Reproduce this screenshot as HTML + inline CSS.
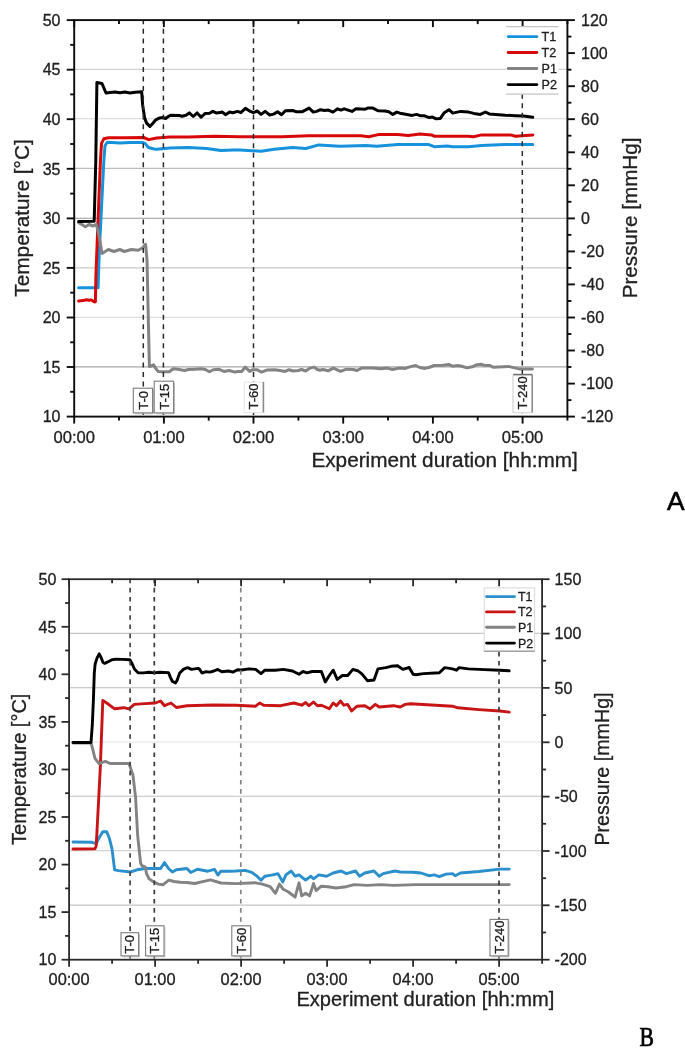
<!DOCTYPE html>
<html><head><meta charset="utf-8"><title>Chart</title>
<style>
html,body{margin:0;padding:0;background:#fff;}
body{width:685px;height:1048px;overflow:hidden;font-family:"Liberation Sans",sans-serif;}
svg{display:block;will-change:transform;}
</style></head><body>
<svg width="685" height="1048" viewBox="0 0 685 1048" font-family="Liberation Sans, sans-serif"><style>text{stroke:#1a1a1a;stroke-width:0.3px;}</style>
<rect width="685" height="1048" fill="#fff"/>
<line x1="74.2" y1="366.9" x2="567.4" y2="366.9" stroke="#a8a8a8" stroke-width="1.1"/>
<line x1="74.2" y1="317.2" x2="567.4" y2="317.2" stroke="#d5d5d5" stroke-width="1.1"/>
<line x1="74.2" y1="267.9" x2="567.4" y2="267.9" stroke="#c9c9c9" stroke-width="1.1"/>
<line x1="74.2" y1="218.2" x2="567.4" y2="218.2" stroke="#999999" stroke-width="1.1"/>
<line x1="74.2" y1="168.4" x2="567.4" y2="168.4" stroke="#bcbcbc" stroke-width="1.1"/>
<line x1="74.2" y1="118.7" x2="567.4" y2="118.7" stroke="#d5d5d5" stroke-width="1.1"/>
<line x1="74.2" y1="69.4" x2="567.4" y2="69.4" stroke="#d1d1d1" stroke-width="1.1"/>
<polyline fill="none" stroke="#1592dc" stroke-width="3" stroke-linejoin="round" stroke-linecap="round" points="78.6,287.8 98.1,287.8 99.2,253.5 101.5,207.5 103.8,161.7 105,145.7 107.2,142.2 120,143 130,142.5 142,142.5 145,143.4 148.5,147.5 154,149 156.7,149.3 169.8,148 188.2,147.5 206.6,148.5 221,150.6 232.9,149.9 240,150.1 261,151.2 274.2,149.3 292.5,147.5 305.7,148.5 318.8,144.9 339.8,146.2 366.1,145.4 376.6,146.2 397.6,144.6 428.9,144.6 434.2,146.7 447.3,145.9 452.5,146.7 468.3,146.7 481.5,145.4 505.1,144.6 532.8,144.6"/>
<polyline fill="none" stroke="#d80808" stroke-width="3" stroke-linejoin="round" stroke-linecap="round" points="78.6,301 83,300.6 86.5,299.8 89,300.3 91,299.9 94.7,302 95.4,301.6 95.9,276 98.1,219 100.4,161.7 101.5,143.4 103.8,138.8 108.4,137.7 125,137.8 143.6,137.5 148.8,139.6 156.7,138 169.8,137 188.2,137 214.5,136.2 240,136.7 282,136.7 308.3,135.7 360.9,135.7 368.7,136.7 379.3,134.4 397.6,134.4 408.2,135.4 420,134.1 431.5,134.9 434.2,136.2 468.3,136.2 473.6,136.7 481.5,134.9 510.4,134.9 515.6,136.2 532.8,134.9"/>
<polyline fill="none" stroke="#838383" stroke-width="3" stroke-linejoin="round" stroke-linecap="round" points="78.6,222.6 81.5,224.3 85.3,226.7 89,224.5 93,226 96.2,224.3 98,230.5 100.4,244 102,253.5 108.4,249.5 114,251.5 119.8,249.5 124.4,251.5 131.3,249.5 138.2,250.3 142.8,247.7 145.6,244.3 147,260 149.4,366.5 150.9,366.2 153.5,364.9 155.5,368.1 158.1,371.4 162.1,371.8 169.3,371.8 173.3,368.8 177.9,369.2 184.4,370.5 188.4,369.5 194.9,369.2 201.5,368.8 205.4,369.5 209.4,371.8 213.3,369.7 218.6,369.2 223.8,371.4 229.1,370.5 235,372.1 238.5,371.6 241.8,371.4 245.1,367.1 249.7,371.4 253,369.7 256.9,369.7 261.5,372.1 266.8,370.1 274.7,369.7 279.9,370.5 285.2,371.4 289.1,369.7 293.1,371 298.3,370.5 301.6,369.5 305.6,371 310.2,368.1 314.1,367.1 317.4,369.5 320,370.3 322.9,369.5 328.1,370.8 333.4,368.1 340.6,371.4 346.5,369.2 353.1,369.5 357,370.5 361.6,368.1 372.8,368.1 380.7,368.8 387.3,368.1 392.5,369.5 399.1,368.1 405.3,368.4 410.5,366.6 415.8,365.5 419.7,367.5 425,368.4 428.9,367.5 434.2,365.5 443.4,365.2 448.6,364.5 452.6,366.2 457.8,365.5 461.8,366.2 467,367.9 472.3,366.8 476.2,364.9 480.8,364.2 484.1,365.2 490,365.5 493.2,367.2 508.4,366.4 519.8,369.1 532.3,369.1"/>
<polyline fill="none" stroke="#000000" stroke-width="3" stroke-linejoin="round" stroke-linecap="round" points="78.6,221.5 94.2,221.3 95.8,160 96.9,82.6 102,83.5 106,93 110,92.5 115,92 120,92.8 125,92 130,93 135,92.2 141.7,91.8 142.6,104.7 144.6,117.9 146.6,123.1 149.9,126.4 152.5,123.8 155.8,119.8 159.7,117.9 163,117.6 165.6,118.5 168.3,116.5 170.9,115.2 179.4,115.5 182,116.3 186,115.2 189.3,112.9 193.2,116.5 197.2,112.9 201.1,117.2 205,113.6 209.6,113.3 212.9,111.3 216.2,112.9 220.2,112.6 222.1,111.9 225.4,114.7 229.6,112.1 232.9,112.7 237.5,111.4 240.8,112.7 245.4,108.4 249.3,110.8 253.3,112.7 257.2,111 261.1,114.4 265.1,111.4 269.7,115 273.6,114.1 277.6,111.8 281.5,114.7 285.4,110.8 292.7,110.5 296.6,111.8 301.9,111.8 309.1,108.1 313.3,112.1 316.6,111.4 320.5,109.7 324.5,110.5 328.4,110.1 333,112.1 337.6,108.8 340.9,110.1 344.2,108.8 348.1,110.1 352,111.4 356,108.8 365.2,109.2 367.8,108.1 372.4,107.9 378.3,110.8 384.9,111 388.8,111.8 392.8,114.4 396.7,112.1 400,113.2 402.9,113.7 408.1,114.7 412.1,115.4 416.7,114.4 420.6,115.8 424.6,115.8 429.2,117.6 432.5,117.1 435.7,118.7 440.3,118.4 444.3,112.7 448.9,109.7 452.8,113.1 460.7,111.4 468.6,112.1 473.8,113.4 480.4,114.4 485.4,112 489.3,113.9 505.1,115.2 515.6,115.7 523.5,116 532.8,117.3"/>
<line x1="143.3" y1="20.1" x2="143.3" y2="416.6" stroke="#2a2a2a" stroke-width="1.5" stroke-dasharray="5.00 4.53" stroke-dashoffset="0.78"/>
<line x1="163.4" y1="20.1" x2="163.4" y2="416.6" stroke="#2a2a2a" stroke-width="1.5" stroke-dasharray="5.00 4.53" stroke-dashoffset="0.78"/>
<line x1="253.5" y1="20.1" x2="253.5" y2="416.6" stroke="#2a2a2a" stroke-width="1.5" stroke-dasharray="5.00 4.53" stroke-dashoffset="0.78"/>
<line x1="522.3" y1="93.7" x2="522.3" y2="416.6" stroke="#2a2a2a" stroke-width="1.5" stroke-dasharray="5.00 4.53" stroke-dashoffset="0.00"/>
<line x1="134.8" y1="413.8" x2="153.5" y2="413.8" stroke="#c4c4c4" stroke-width="1"/>
<line x1="153.5" y1="389.7" x2="153.5" y2="413.8" stroke="#c4c4c4" stroke-width="1"/>
<rect x="133.3" y="388.2" width="19.3" height="24.7" fill="#fff" stroke="#7c7c7c" stroke-width="1.1"/>
<text transform="translate(147.5 409.7) rotate(-90)" font-size="13" fill="#222222">T-0</text>
<line x1="155.7" y1="413.8" x2="174.5" y2="413.8" stroke="#c4c4c4" stroke-width="1"/>
<line x1="174.5" y1="382.7" x2="174.5" y2="413.8" stroke="#c4c4c4" stroke-width="1"/>
<rect x="154.2" y="381.2" width="19.4" height="31.7" fill="#fff" stroke="#7c7c7c" stroke-width="1.1"/>
<text transform="translate(168.5 409.7) rotate(-90)" font-size="13" fill="#222222">T-15</text>
<rect x="244.2" y="382" width="19.2" height="30.7" fill="#fff"/>
<line x1="244.2" y1="382" x2="263.4" y2="382" stroke="#e4e4e4" stroke-width="1"/>
<line x1="263.4" y1="382" x2="263.4" y2="412.7" stroke="#8a8a8a" stroke-width="1.6"/>
<line x1="244.2" y1="412.7" x2="263.4" y2="412.7" stroke="#e0e0e0" stroke-width="1"/>
<line x1="244.2" y1="382" x2="244.2" y2="412.7" stroke="#e4e4e4" stroke-width="1"/>
<text transform="translate(258.4 409.5) rotate(-90)" font-size="13" fill="#222222">T-60</text>
<rect x="513" y="374.6" width="19.2" height="38.1" fill="#fff"/>
<line x1="513" y1="374.6" x2="532.2" y2="374.6" stroke="#6e6e6e" stroke-width="1.6"/>
<line x1="532.2" y1="374.6" x2="532.2" y2="412.7" stroke="#858585" stroke-width="1.5"/>
<line x1="513" y1="412.7" x2="532.2" y2="412.7" stroke="#d4d4d4" stroke-width="1"/>
<line x1="513" y1="374.6" x2="513" y2="412.7" stroke="#c8c8c8" stroke-width="1"/>
<text transform="translate(527.2 409.5) rotate(-90)" font-size="13" fill="#222222">T-240</text>
<rect x="74.2" y="20.1" width="493.2" height="396.5" fill="none" stroke="#0d0d0d" stroke-width="1.9"/>
<line x1="66.7" y1="416.6" x2="74.2" y2="416.6" stroke="#0d0d0d" stroke-width="1.9"/>
<line x1="70.2" y1="391.8" x2="74.2" y2="391.8" stroke="#0d0d0d" stroke-width="1.9"/>
<line x1="66.7" y1="367" x2="74.2" y2="367" stroke="#0d0d0d" stroke-width="1.9"/>
<line x1="70.2" y1="342.3" x2="74.2" y2="342.3" stroke="#0d0d0d" stroke-width="1.9"/>
<line x1="66.7" y1="317.5" x2="74.2" y2="317.5" stroke="#0d0d0d" stroke-width="1.9"/>
<line x1="70.2" y1="292.7" x2="74.2" y2="292.7" stroke="#0d0d0d" stroke-width="1.9"/>
<line x1="66.7" y1="267.9" x2="74.2" y2="267.9" stroke="#0d0d0d" stroke-width="1.9"/>
<line x1="70.2" y1="243.1" x2="74.2" y2="243.1" stroke="#0d0d0d" stroke-width="1.9"/>
<line x1="66.7" y1="218.4" x2="74.2" y2="218.4" stroke="#0d0d0d" stroke-width="1.9"/>
<line x1="70.2" y1="193.6" x2="74.2" y2="193.6" stroke="#0d0d0d" stroke-width="1.9"/>
<line x1="66.7" y1="168.8" x2="74.2" y2="168.8" stroke="#0d0d0d" stroke-width="1.9"/>
<line x1="70.2" y1="144" x2="74.2" y2="144" stroke="#0d0d0d" stroke-width="1.9"/>
<line x1="66.7" y1="119.2" x2="74.2" y2="119.2" stroke="#0d0d0d" stroke-width="1.9"/>
<line x1="70.2" y1="94.4" x2="74.2" y2="94.4" stroke="#0d0d0d" stroke-width="1.9"/>
<line x1="66.7" y1="69.7" x2="74.2" y2="69.7" stroke="#0d0d0d" stroke-width="1.9"/>
<line x1="70.2" y1="44.9" x2="74.2" y2="44.9" stroke="#0d0d0d" stroke-width="1.9"/>
<line x1="66.7" y1="20.1" x2="74.2" y2="20.1" stroke="#0d0d0d" stroke-width="1.9"/>
<line x1="567.4" y1="416.6" x2="574.9" y2="416.6" stroke="#0d0d0d" stroke-width="1.9"/>
<line x1="567.4" y1="400.1" x2="571.4" y2="400.1" stroke="#0d0d0d" stroke-width="1.9"/>
<line x1="567.4" y1="383.6" x2="574.9" y2="383.6" stroke="#0d0d0d" stroke-width="1.9"/>
<line x1="567.4" y1="367" x2="571.4" y2="367" stroke="#0d0d0d" stroke-width="1.9"/>
<line x1="567.4" y1="350.5" x2="574.9" y2="350.5" stroke="#0d0d0d" stroke-width="1.9"/>
<line x1="567.4" y1="334" x2="571.4" y2="334" stroke="#0d0d0d" stroke-width="1.9"/>
<line x1="567.4" y1="317.5" x2="574.9" y2="317.5" stroke="#0d0d0d" stroke-width="1.9"/>
<line x1="567.4" y1="301" x2="571.4" y2="301" stroke="#0d0d0d" stroke-width="1.9"/>
<line x1="567.4" y1="284.4" x2="574.9" y2="284.4" stroke="#0d0d0d" stroke-width="1.9"/>
<line x1="567.4" y1="267.9" x2="571.4" y2="267.9" stroke="#0d0d0d" stroke-width="1.9"/>
<line x1="567.4" y1="251.4" x2="574.9" y2="251.4" stroke="#0d0d0d" stroke-width="1.9"/>
<line x1="567.4" y1="234.9" x2="571.4" y2="234.9" stroke="#0d0d0d" stroke-width="1.9"/>
<line x1="567.4" y1="218.4" x2="574.9" y2="218.4" stroke="#0d0d0d" stroke-width="1.9"/>
<line x1="567.4" y1="201.8" x2="571.4" y2="201.8" stroke="#0d0d0d" stroke-width="1.9"/>
<line x1="567.4" y1="185.3" x2="574.9" y2="185.3" stroke="#0d0d0d" stroke-width="1.9"/>
<line x1="567.4" y1="168.8" x2="571.4" y2="168.8" stroke="#0d0d0d" stroke-width="1.9"/>
<line x1="567.4" y1="152.3" x2="574.9" y2="152.3" stroke="#0d0d0d" stroke-width="1.9"/>
<line x1="567.4" y1="135.7" x2="571.4" y2="135.7" stroke="#0d0d0d" stroke-width="1.9"/>
<line x1="567.4" y1="119.2" x2="574.9" y2="119.2" stroke="#0d0d0d" stroke-width="1.9"/>
<line x1="567.4" y1="102.7" x2="571.4" y2="102.7" stroke="#0d0d0d" stroke-width="1.9"/>
<line x1="567.4" y1="86.2" x2="574.9" y2="86.2" stroke="#0d0d0d" stroke-width="1.9"/>
<line x1="567.4" y1="69.7" x2="571.4" y2="69.7" stroke="#0d0d0d" stroke-width="1.9"/>
<line x1="567.4" y1="53.1" x2="574.9" y2="53.1" stroke="#0d0d0d" stroke-width="1.9"/>
<line x1="567.4" y1="36.6" x2="571.4" y2="36.6" stroke="#0d0d0d" stroke-width="1.9"/>
<line x1="567.4" y1="20.1" x2="574.9" y2="20.1" stroke="#0d0d0d" stroke-width="1.9"/>
<line x1="74.2" y1="416.6" x2="74.2" y2="423.6" stroke="#0d0d0d" stroke-width="1.9"/>
<line x1="74.2" y1="20.1" x2="74.2" y2="27.1" stroke="#0d0d0d" stroke-width="1.9"/>
<line x1="119" y1="416.6" x2="119" y2="420.6" stroke="#0d0d0d" stroke-width="1.9"/>
<line x1="119" y1="20.1" x2="119" y2="24.1" stroke="#0d0d0d" stroke-width="1.9"/>
<line x1="163.9" y1="416.6" x2="163.9" y2="423.6" stroke="#0d0d0d" stroke-width="1.9"/>
<line x1="163.9" y1="20.1" x2="163.9" y2="27.1" stroke="#0d0d0d" stroke-width="1.9"/>
<line x1="208.7" y1="416.6" x2="208.7" y2="420.6" stroke="#0d0d0d" stroke-width="1.9"/>
<line x1="208.7" y1="20.1" x2="208.7" y2="24.1" stroke="#0d0d0d" stroke-width="1.9"/>
<line x1="253.5" y1="416.6" x2="253.5" y2="423.6" stroke="#0d0d0d" stroke-width="1.9"/>
<line x1="253.5" y1="20.1" x2="253.5" y2="27.1" stroke="#0d0d0d" stroke-width="1.9"/>
<line x1="298.4" y1="416.6" x2="298.4" y2="420.6" stroke="#0d0d0d" stroke-width="1.9"/>
<line x1="298.4" y1="20.1" x2="298.4" y2="24.1" stroke="#0d0d0d" stroke-width="1.9"/>
<line x1="343.2" y1="416.6" x2="343.2" y2="423.6" stroke="#0d0d0d" stroke-width="1.9"/>
<line x1="343.2" y1="20.1" x2="343.2" y2="27.1" stroke="#0d0d0d" stroke-width="1.9"/>
<line x1="388" y1="416.6" x2="388" y2="420.6" stroke="#0d0d0d" stroke-width="1.9"/>
<line x1="388" y1="20.1" x2="388" y2="24.1" stroke="#0d0d0d" stroke-width="1.9"/>
<line x1="432.9" y1="416.6" x2="432.9" y2="423.6" stroke="#0d0d0d" stroke-width="1.9"/>
<line x1="432.9" y1="20.1" x2="432.9" y2="27.1" stroke="#0d0d0d" stroke-width="1.9"/>
<line x1="477.7" y1="416.6" x2="477.7" y2="420.6" stroke="#0d0d0d" stroke-width="1.9"/>
<line x1="477.7" y1="20.1" x2="477.7" y2="24.1" stroke="#0d0d0d" stroke-width="1.9"/>
<line x1="522.6" y1="416.6" x2="522.6" y2="423.6" stroke="#0d0d0d" stroke-width="1.9"/>
<line x1="522.6" y1="20.1" x2="522.6" y2="27.1" stroke="#0d0d0d" stroke-width="1.9"/>
<line x1="567.4" y1="416.6" x2="567.4" y2="420.6" stroke="#0d0d0d" stroke-width="1.9"/>
<line x1="567.4" y1="20.1" x2="567.4" y2="24.1" stroke="#0d0d0d" stroke-width="1.9"/>
<rect x="506.1" y="26.7" width="52.5" height="67.5" fill="#fff"/>
<line x1="506.1" y1="26.7" x2="558.6" y2="26.7" stroke="#c4c4c4" stroke-width="1.2"/>
<line x1="506.1" y1="94.2" x2="558.6" y2="94.2" stroke="#c4c4c4" stroke-width="1.2"/>
<line x1="508.1" y1="36.6" x2="536.9" y2="36.6" stroke="#1592dc" stroke-width="2.8" stroke-linecap="round"/>
<text x="541.5" y="41.1" font-size="12.6" fill="#222222">T1</text>
<line x1="508.1" y1="52.5" x2="536.9" y2="52.5" stroke="#d80808" stroke-width="2.8" stroke-linecap="round"/>
<text x="541.5" y="57" font-size="12.6" fill="#222222">T2</text>
<line x1="508.1" y1="68.5" x2="536.9" y2="68.5" stroke="#838383" stroke-width="2.8" stroke-linecap="round"/>
<text x="541.5" y="73" font-size="12.6" fill="#222222">P1</text>
<line x1="508.1" y1="84.6" x2="536.9" y2="84.6" stroke="#000000" stroke-width="2.8" stroke-linecap="round"/>
<text x="541.5" y="89.1" font-size="12.6" fill="#222222">P2</text>
<text x="60.5" y="422.3" font-size="16" text-anchor="end" fill="#222222">10</text>
<text x="60.5" y="372.8" font-size="16" text-anchor="end" fill="#222222">15</text>
<text x="60.5" y="323.2" font-size="16" text-anchor="end" fill="#222222">20</text>
<text x="60.5" y="273.6" font-size="16" text-anchor="end" fill="#222222">25</text>
<text x="60.5" y="224.1" font-size="16" text-anchor="end" fill="#222222">30</text>
<text x="60.5" y="174.5" font-size="16" text-anchor="end" fill="#222222">35</text>
<text x="60.5" y="125" font-size="16" text-anchor="end" fill="#222222">40</text>
<text x="60.5" y="75.4" font-size="16" text-anchor="end" fill="#222222">45</text>
<text x="60.5" y="25.8" font-size="16" text-anchor="end" fill="#222222">50</text>
<text x="581" y="422.3" font-size="16" fill="#222222">-120</text>
<text x="581" y="389.3" font-size="16" fill="#222222">-100</text>
<text x="581" y="356.2" font-size="16" fill="#222222">-80</text>
<text x="581" y="323.2" font-size="16" fill="#222222">-60</text>
<text x="581" y="290.2" font-size="16" fill="#222222">-40</text>
<text x="581" y="257.1" font-size="16" fill="#222222">-20</text>
<text x="581" y="224.1" font-size="16" fill="#222222">0</text>
<text x="581" y="191" font-size="16" fill="#222222">20</text>
<text x="581" y="158" font-size="16" fill="#222222">40</text>
<text x="581" y="125" font-size="16" fill="#222222">60</text>
<text x="581" y="91.9" font-size="16" fill="#222222">80</text>
<text x="581" y="58.9" font-size="16" fill="#222222">100</text>
<text x="581" y="25.8" font-size="16" fill="#222222">120</text>
<text x="74.2" y="442.7" font-size="16.6" text-anchor="middle" fill="#222222">00:00</text>
<text x="163.9" y="442.7" font-size="16.6" text-anchor="middle" fill="#222222">01:00</text>
<text x="253.5" y="442.7" font-size="16.6" text-anchor="middle" fill="#222222">02:00</text>
<text x="343.2" y="442.7" font-size="16.6" text-anchor="middle" fill="#222222">03:00</text>
<text x="432.9" y="442.7" font-size="16.6" text-anchor="middle" fill="#222222">04:00</text>
<text x="522.6" y="442.7" font-size="16.6" text-anchor="middle" fill="#222222">05:00</text>
<line x1="69.1" y1="905.1" x2="542.1" y2="905.1" stroke="#c4c4c4" stroke-width="1.1"/>
<line x1="69.1" y1="850.7" x2="542.1" y2="850.7" stroke="#c6c6c6" stroke-width="1.1"/>
<line x1="69.1" y1="796.2" x2="542.1" y2="796.2" stroke="#c0c0c0" stroke-width="1.1"/>
<line x1="69.1" y1="742" x2="542.1" y2="742" stroke="#e3e3e3" stroke-width="1.1"/>
<line x1="69.1" y1="687.8" x2="542.1" y2="687.8" stroke="#b8b8b8" stroke-width="1.1"/>
<line x1="69.1" y1="633.4" x2="542.1" y2="633.4" stroke="#c5c5c5" stroke-width="1.1"/>
<polyline fill="none" stroke="#2a8fcc" stroke-width="2.9" stroke-linejoin="round" stroke-linecap="round" points="73,842 92.3,842.3 96.2,843.6 98.8,838.3 102.8,831.7 106.7,831.7 109.4,838.3 112,848.8 114.6,869.8 118.5,870.6 130.4,872 137,869.8 144.8,868.5 160.6,868.5 164.5,862.5 168.5,868.5 172.4,872 176.3,869.8 186.9,868.5 190.8,872.5 197.4,869.3 207.9,871.2 214.4,869.3 217.9,875.1 221,871.2 228.9,871.2 236,871 245.2,870.4 251.8,872.3 257,876.2 261,880.1 264.9,876.2 272.8,874.9 278,873.6 282.8,882 285.9,874.9 291.2,871 295.1,876.2 299,874.9 305.6,880.1 310.9,876.2 313.5,878.8 318.8,874.9 326.6,876.2 333.2,873 341.1,871 346.4,873.6 355.5,871 359.5,876.2 364.7,873 374,871 379.2,876.2 383.1,873.6 395,871 400.2,872 413.1,872.3 421,873 428.9,875.7 434.2,874.9 439.4,876.7 446,874.1 452.5,873.6 455.2,875.7 460.4,873 478.8,871.5 499.8,869.1 509.2,869.1"/>
<polyline fill="none" stroke="#c81414" stroke-width="2.9" stroke-linejoin="round" stroke-linecap="round" points="73,849 94.9,848.8 96.2,846 100.2,770 102.8,700.4 106.7,703 114.6,708.8 123.8,707.7 129,708.8 134.3,704.4 144.8,703.6 155.3,703 160.6,701 164.5,705.7 171,703 176.4,707.5 186.9,705.7 213,705 236,705.2 255.7,706.2 259.6,703 263.6,705.2 280.7,705.7 293.8,703 301.7,705.2 305.6,702.5 309,705.7 313.5,702 317.5,705.7 321.4,705.2 329.3,708.8 333.2,703 336.4,705.7 340.6,701 343.7,705.2 347.7,704.4 351.6,711 356.9,706.2 364.7,705.7 370,708.8 375.3,704.4 379.2,707 393.6,705.7 400.2,707 405.3,704.4 410.5,703.8 452.5,706.2 457.8,707.8 478.8,709.6 499.8,711 509.2,712.1"/>
<polyline fill="none" stroke="#838383" stroke-width="2.9" stroke-linejoin="round" stroke-linecap="round" points="73,743 91,743 92.3,747.7 94.9,758.2 98.8,763.5 105.4,761.4 110,763.5 129,763.5 133,775.3 135.6,797.6 137.6,835 139.4,852 140.6,863.1 141.9,865.7 145.2,866.8 146.5,873.6 149.1,878.9 153.1,881.5 158.3,884.1 162.9,884.8 168.8,880.2 174.1,881.5 180,882.2 186.9,882.5 194.7,883.5 202.6,881.7 210.5,879.8 221,883 236,883.6 255.7,882.8 262.3,884.1 270.2,886.7 275.4,893.3 279.4,884.1 283.3,889.3 288.5,892 295.1,897.2 299,882.8 301.7,895.9 305.6,893.3 309.6,895.9 313.5,883.6 316.1,890.6 321.4,886.2 328,886.7 335.8,888 346.4,886.7 354.2,884.6 367.4,885.4 380.5,884.6 393.6,885.4 416,884.6 509.2,884.6"/>
<polyline fill="none" stroke="#000000" stroke-width="2.9" stroke-linejoin="round" stroke-linecap="round" points="73,742.5 91,742.5 92.3,725 93.4,700 94.3,672.9 95.2,663.7 96.9,658.4 99.2,653.8 100.9,657.1 102.9,662.3 104.8,663.4 108.1,661.7 112,659.7 116,659.1 122.6,659.4 129.8,659.7 131.8,663 134.4,668.9 138.3,672.9 143.6,672.9 148.8,672.2 154.1,672.9 160,672.3 168.5,672.6 170.5,677.6 172.5,681.5 175.5,682.9 177.1,680.2 179.7,673 183.7,669.1 187.6,667.7 191.5,669.4 198.1,668.4 199.4,669.1 202,673 206,671.7 209.9,672.1 213.9,671 217.8,669.4 221.8,671.7 228.3,671 232.9,672.1 237.5,669.7 241.5,670 249.1,668.9 255.7,669.4 261,673.6 264.9,670.2 275.4,670.2 283.3,669.4 292.5,671 299,674.2 303,671.5 307,672.8 312.2,671.5 321.4,671.5 325.3,682 329.3,675.5 333.2,670.2 337.2,679.4 342.4,675.5 347.7,675.5 352.9,669.4 358.2,671 362.1,674.2 367.4,680.7 374,680 377.9,668.9 385.8,667.6 391,666.3 397.6,665.7 402.8,669.4 409.2,667.5 413.1,674.2 415.8,674.7 423.6,673.6 439.4,672.8 444.7,667.6 452.5,668.9 456.5,670.2 459.1,667.6 468.3,668.9 478.8,669.4 499.8,670.2 509.2,670.8"/>
<line x1="130.1" y1="579.3" x2="130.1" y2="959.7" stroke="#444444" stroke-width="1.7" stroke-dasharray="4.60 4.55" stroke-dashoffset="0.65"/>
<line x1="154.3" y1="579.3" x2="154.3" y2="959.7" stroke="#3a3a3a" stroke-width="1.7" stroke-dasharray="4.60 4.55" stroke-dashoffset="0.65"/>
<line x1="240.8" y1="579.3" x2="240.8" y2="959.7" stroke="#858585" stroke-width="1.7" stroke-dasharray="4.60 4.55" stroke-dashoffset="0.65"/>
<line x1="499" y1="651.8" x2="499" y2="959.7" stroke="#3a3a3a" stroke-width="1.7" stroke-dasharray="4.60 4.55" stroke-dashoffset="9.10"/>
<line x1="122.5" y1="956.8" x2="139.5" y2="956.8" stroke="#c4c4c4" stroke-width="1"/>
<line x1="139.5" y1="934.2" x2="139.5" y2="956.8" stroke="#c4c4c4" stroke-width="1"/>
<rect x="121" y="932.7" width="17.6" height="23.2" fill="#fff" stroke="#7c7c7c" stroke-width="1.1"/>
<text transform="translate(134.4 953.7) rotate(-90)" font-size="13" fill="#222222">T-0</text>
<line x1="147.1" y1="956.8" x2="164.9" y2="956.8" stroke="#c4c4c4" stroke-width="1"/>
<line x1="164.9" y1="927.3" x2="164.9" y2="956.8" stroke="#c4c4c4" stroke-width="1"/>
<rect x="145.6" y="925.8" width="18.4" height="30.1" fill="#fff" stroke="#7c7c7c" stroke-width="1.1"/>
<text transform="translate(159.4 953.7) rotate(-90)" font-size="13" fill="#222222">T-15</text>
<line x1="233.3" y1="956.8" x2="251.5" y2="956.8" stroke="#c4c4c4" stroke-width="1"/>
<line x1="251.5" y1="927.3" x2="251.5" y2="956.8" stroke="#c4c4c4" stroke-width="1"/>
<rect x="231.8" y="925.8" width="18.8" height="30.1" fill="#fff" stroke="#7c7c7c" stroke-width="1.1"/>
<text transform="translate(245.8 953.7) rotate(-90)" font-size="13" fill="#222222">T-60</text>
<line x1="491.5" y1="956.8" x2="509.1" y2="956.8" stroke="#c4c4c4" stroke-width="1"/>
<line x1="509.1" y1="920.9" x2="509.1" y2="956.8" stroke="#c4c4c4" stroke-width="1"/>
<rect x="490" y="919.4" width="18.2" height="36.5" fill="#fff" stroke="#7c7c7c" stroke-width="1.1"/>
<text transform="translate(503.7 953.7) rotate(-90)" font-size="13" fill="#222222">T-240</text>
<rect x="69.1" y="579.2" width="473" height="380.5" fill="none" stroke="#2a2a2a" stroke-width="1.8"/>
<line x1="61.6" y1="959.7" x2="69.1" y2="959.7" stroke="#2a2a2a" stroke-width="1.8"/>
<line x1="65.1" y1="935.9" x2="69.1" y2="935.9" stroke="#2a2a2a" stroke-width="1.8"/>
<line x1="61.6" y1="912.1" x2="69.1" y2="912.1" stroke="#2a2a2a" stroke-width="1.8"/>
<line x1="65.1" y1="888.4" x2="69.1" y2="888.4" stroke="#2a2a2a" stroke-width="1.8"/>
<line x1="61.6" y1="864.6" x2="69.1" y2="864.6" stroke="#2a2a2a" stroke-width="1.8"/>
<line x1="65.1" y1="840.8" x2="69.1" y2="840.8" stroke="#2a2a2a" stroke-width="1.8"/>
<line x1="61.6" y1="817" x2="69.1" y2="817" stroke="#2a2a2a" stroke-width="1.8"/>
<line x1="65.1" y1="793.2" x2="69.1" y2="793.2" stroke="#2a2a2a" stroke-width="1.8"/>
<line x1="61.6" y1="769.5" x2="69.1" y2="769.5" stroke="#2a2a2a" stroke-width="1.8"/>
<line x1="65.1" y1="745.7" x2="69.1" y2="745.7" stroke="#2a2a2a" stroke-width="1.8"/>
<line x1="61.6" y1="721.9" x2="69.1" y2="721.9" stroke="#2a2a2a" stroke-width="1.8"/>
<line x1="65.1" y1="698.1" x2="69.1" y2="698.1" stroke="#2a2a2a" stroke-width="1.8"/>
<line x1="61.6" y1="674.3" x2="69.1" y2="674.3" stroke="#2a2a2a" stroke-width="1.8"/>
<line x1="65.1" y1="650.5" x2="69.1" y2="650.5" stroke="#2a2a2a" stroke-width="1.8"/>
<line x1="61.6" y1="626.8" x2="69.1" y2="626.8" stroke="#2a2a2a" stroke-width="1.8"/>
<line x1="65.1" y1="603" x2="69.1" y2="603" stroke="#2a2a2a" stroke-width="1.8"/>
<line x1="61.6" y1="579.2" x2="69.1" y2="579.2" stroke="#2a2a2a" stroke-width="1.8"/>
<line x1="542.1" y1="959.7" x2="549.6" y2="959.7" stroke="#2a2a2a" stroke-width="1.8"/>
<line x1="542.1" y1="932.5" x2="546.1" y2="932.5" stroke="#2a2a2a" stroke-width="1.8"/>
<line x1="542.1" y1="905.3" x2="549.6" y2="905.3" stroke="#2a2a2a" stroke-width="1.8"/>
<line x1="542.1" y1="878.2" x2="546.1" y2="878.2" stroke="#2a2a2a" stroke-width="1.8"/>
<line x1="542.1" y1="851" x2="549.6" y2="851" stroke="#2a2a2a" stroke-width="1.8"/>
<line x1="542.1" y1="823.8" x2="546.1" y2="823.8" stroke="#2a2a2a" stroke-width="1.8"/>
<line x1="542.1" y1="796.6" x2="549.6" y2="796.6" stroke="#2a2a2a" stroke-width="1.8"/>
<line x1="542.1" y1="769.5" x2="546.1" y2="769.5" stroke="#2a2a2a" stroke-width="1.8"/>
<line x1="542.1" y1="742.3" x2="549.6" y2="742.3" stroke="#2a2a2a" stroke-width="1.8"/>
<line x1="542.1" y1="715.1" x2="546.1" y2="715.1" stroke="#2a2a2a" stroke-width="1.8"/>
<line x1="542.1" y1="687.9" x2="549.6" y2="687.9" stroke="#2a2a2a" stroke-width="1.8"/>
<line x1="542.1" y1="660.7" x2="546.1" y2="660.7" stroke="#2a2a2a" stroke-width="1.8"/>
<line x1="542.1" y1="633.6" x2="549.6" y2="633.6" stroke="#2a2a2a" stroke-width="1.8"/>
<line x1="542.1" y1="606.4" x2="546.1" y2="606.4" stroke="#2a2a2a" stroke-width="1.8"/>
<line x1="542.1" y1="579.2" x2="549.6" y2="579.2" stroke="#2a2a2a" stroke-width="1.8"/>
<line x1="69.1" y1="959.7" x2="69.1" y2="966.7" stroke="#2a2a2a" stroke-width="1.8"/>
<line x1="69.1" y1="579.2" x2="69.1" y2="586.2" stroke="#2a2a2a" stroke-width="1.8"/>
<line x1="112.1" y1="959.7" x2="112.1" y2="963.7" stroke="#2a2a2a" stroke-width="1.8"/>
<line x1="112.1" y1="579.2" x2="112.1" y2="583.2" stroke="#2a2a2a" stroke-width="1.8"/>
<line x1="155.1" y1="959.7" x2="155.1" y2="966.7" stroke="#2a2a2a" stroke-width="1.8"/>
<line x1="155.1" y1="579.2" x2="155.1" y2="586.2" stroke="#2a2a2a" stroke-width="1.8"/>
<line x1="198.1" y1="959.7" x2="198.1" y2="963.7" stroke="#2a2a2a" stroke-width="1.8"/>
<line x1="198.1" y1="579.2" x2="198.1" y2="583.2" stroke="#2a2a2a" stroke-width="1.8"/>
<line x1="241.1" y1="959.7" x2="241.1" y2="966.7" stroke="#2a2a2a" stroke-width="1.8"/>
<line x1="241.1" y1="579.2" x2="241.1" y2="586.2" stroke="#2a2a2a" stroke-width="1.8"/>
<line x1="284.1" y1="959.7" x2="284.1" y2="963.7" stroke="#2a2a2a" stroke-width="1.8"/>
<line x1="284.1" y1="579.2" x2="284.1" y2="583.2" stroke="#2a2a2a" stroke-width="1.8"/>
<line x1="327.1" y1="959.7" x2="327.1" y2="966.7" stroke="#2a2a2a" stroke-width="1.8"/>
<line x1="327.1" y1="579.2" x2="327.1" y2="586.2" stroke="#2a2a2a" stroke-width="1.8"/>
<line x1="370.1" y1="959.7" x2="370.1" y2="963.7" stroke="#2a2a2a" stroke-width="1.8"/>
<line x1="370.1" y1="579.2" x2="370.1" y2="583.2" stroke="#2a2a2a" stroke-width="1.8"/>
<line x1="413.1" y1="959.7" x2="413.1" y2="966.7" stroke="#2a2a2a" stroke-width="1.8"/>
<line x1="413.1" y1="579.2" x2="413.1" y2="586.2" stroke="#2a2a2a" stroke-width="1.8"/>
<line x1="456.1" y1="959.7" x2="456.1" y2="963.7" stroke="#2a2a2a" stroke-width="1.8"/>
<line x1="456.1" y1="579.2" x2="456.1" y2="583.2" stroke="#2a2a2a" stroke-width="1.8"/>
<line x1="499.1" y1="959.7" x2="499.1" y2="966.7" stroke="#2a2a2a" stroke-width="1.8"/>
<line x1="499.1" y1="579.2" x2="499.1" y2="586.2" stroke="#2a2a2a" stroke-width="1.8"/>
<line x1="542.1" y1="959.7" x2="542.1" y2="963.7" stroke="#2a2a2a" stroke-width="1.8"/>
<line x1="542.1" y1="579.2" x2="542.1" y2="583.2" stroke="#2a2a2a" stroke-width="1.8"/>
<rect x="484.2" y="587.9" width="50.4" height="63.3" fill="#fff" stroke="#d8d8d8" stroke-width="1"/>
<line x1="484.2" y1="651.2" x2="534.6" y2="651.2" stroke="#a2a2a2" stroke-width="1.4"/>
<line x1="486.6" y1="596.6" x2="514.4" y2="596.6" stroke="#2a8fcc" stroke-width="2.9" stroke-linecap="round"/>
<text x="518" y="601.1" font-size="12.4" fill="#222222">T1</text>
<line x1="486.6" y1="611.9" x2="514.4" y2="611.9" stroke="#c81414" stroke-width="2.9" stroke-linecap="round"/>
<text x="518" y="616.4" font-size="12.4" fill="#222222">T2</text>
<line x1="486.6" y1="627.3" x2="514.4" y2="627.3" stroke="#838383" stroke-width="2.9" stroke-linecap="round"/>
<text x="518" y="631.8" font-size="12.4" fill="#222222">P1</text>
<line x1="486.6" y1="643.1" x2="514.4" y2="643.1" stroke="#000000" stroke-width="2.9" stroke-linecap="round"/>
<text x="518" y="647.6" font-size="12.4" fill="#222222">P2</text>
<text x="56.3" y="965.4" font-size="16" text-anchor="end" fill="#222222">10</text>
<text x="56.3" y="917.9" font-size="16" text-anchor="end" fill="#222222">15</text>
<text x="56.3" y="870.3" font-size="16" text-anchor="end" fill="#222222">20</text>
<text x="56.3" y="822.7" font-size="16" text-anchor="end" fill="#222222">25</text>
<text x="56.3" y="775.2" font-size="16" text-anchor="end" fill="#222222">30</text>
<text x="56.3" y="727.6" font-size="16" text-anchor="end" fill="#222222">35</text>
<text x="56.3" y="680.1" font-size="16" text-anchor="end" fill="#222222">40</text>
<text x="56.3" y="632.5" font-size="16" text-anchor="end" fill="#222222">45</text>
<text x="56.3" y="584.9" font-size="16" text-anchor="end" fill="#222222">50</text>
<text x="554.6" y="965.4" font-size="16" fill="#222222">-200</text>
<text x="554.6" y="911.1" font-size="16" fill="#222222">-150</text>
<text x="554.6" y="856.7" font-size="16" fill="#222222">-100</text>
<text x="554.6" y="802.4" font-size="16" fill="#222222">-50</text>
<text x="554.6" y="748" font-size="16" fill="#222222">0</text>
<text x="554.6" y="693.6" font-size="16" fill="#222222">50</text>
<text x="554.6" y="639.3" font-size="16" fill="#222222">100</text>
<text x="554.6" y="584.9" font-size="16" fill="#222222">150</text>
<text x="69.1" y="984.8" font-size="16.4" text-anchor="middle" fill="#222222">00:00</text>
<text x="155.1" y="984.8" font-size="16.4" text-anchor="middle" fill="#222222">01:00</text>
<text x="241.1" y="984.8" font-size="16.4" text-anchor="middle" fill="#222222">02:00</text>
<text x="327.1" y="984.8" font-size="16.4" text-anchor="middle" fill="#222222">03:00</text>
<text x="413.1" y="984.8" font-size="16.4" text-anchor="middle" fill="#222222">04:00</text>
<text x="499.1" y="984.8" font-size="16.4" text-anchor="middle" fill="#222222">05:00</text>
<text x="311.4" y="467.1" font-size="20.75" fill="#222222">Experiment duration [hh:mm]</text>
<text transform="translate(29.0 218) rotate(-90)" font-size="20.8" text-anchor="middle" fill="#222222">Temperature [°C]</text>
<text transform="translate(637.3 217.9) rotate(-90)" font-size="20.7" text-anchor="middle" fill="#222222">Pressure [mmHg]</text>
<text x="296.4" y="1006" font-size="20.1" fill="#222222">Experiment duration [hh:mm]</text>
<text transform="translate(25.6 769.3) rotate(-90)" font-size="20.0" text-anchor="middle" fill="#222222">Temperature [°C]</text>
<text transform="translate(609.0 769.0) rotate(-90)" font-size="19.7" text-anchor="middle" fill="#222222">Pressure [mmHg]</text>
<text x="667.0" y="509.8" font-size="26.4" fill="#000" style="stroke:#000;stroke-width:0.6px">A</text>
<text transform="translate(639.6 1046.4) scale(0.785 1)" font-size="27.6" font-family="Liberation Serif, serif" fill="#000" style="stroke:#000;stroke-width:0.75px">B</text>
</svg>
</body></html>
